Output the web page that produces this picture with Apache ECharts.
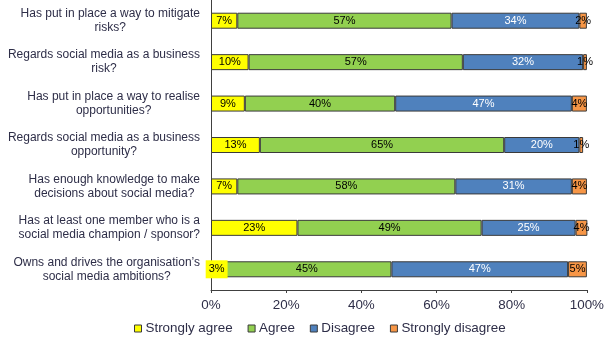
<!DOCTYPE html>
<html>
<head>
<meta charset="utf-8">
<script src="https://cdn.jsdelivr.net/npm/echarts@6/dist/echarts.min.js"></script>
<style>
  html, body { margin: 0; padding: 0; background: #fff; }
  #chart { width: 607px; height: 349px; }
</style>
</head>
<body>
<div id="chart"></div>
<script>
// Survey statements, top to bottom
const categories = [
  'Has put in place a way to mitigate\nrisks?',
  'Regards social media as a business\nrisk?',
  'Has put in place a way to realise\nopportunities?',
  'Regards social media as a business\nopportunity?',
  'Has enough knowledge to make\ndecisions about social media?',
  'Has at least one member who is a\nsocial media champion / sponsor?',
  'Owns and drives the organisation\u2019s\nsocial media ambitions?'
];

// Response shares (%) per statement, same order as categories
const stronglyAgree    = [7, 10, 9, 13, 7, 23, 3];
const agree            = [57, 57, 40, 65, 58, 49, 45];
const disagree         = [34, 32, 47, 20, 31, 25, 47];
const stronglyDisagree = [2, 1, 4, 1, 4, 4, 5];

const seriesNames = ['Strongly agree', 'Agree', 'Disagree', 'Strongly disagree'];
const xTicks = [0, 20, 40, 60, 80, 100];

const colors = ['#FFFF00', '#92D050', '#4F81BD', '#F79646'];
const labelColors = ['#000', '#000', '#fff', '#000'];
const values = [stronglyAgree, agree, disagree, stronglyDisagree];

const chart = echarts.init(document.getElementById('chart'), null, { renderer: 'canvas' });

const font = 'Arial, "Liberation Sans", sans-serif';
const textColor = '#2e2e48';

const series = values.map((arr, si) => ({
  name: seriesNames[si],
  type: 'bar',
  stack: 'total',
  barWidth: 16,
  clip: true,
  itemStyle: { color: colors[si], borderColor: '#3a3a3a', borderWidth: 1 },
  label: {
    show: true,
    position: 'inside',
    formatter: p => p.value + '%',
    color: labelColors[si],
    fontFamily: font,
    fontSize: 11
  },
  emphasis: { disabled: true },
  data: arr.map((v, i) => {
    // the smallest leading share gets a filled label box so it stays readable
    if (si === 0 && v < 5) {
      return { value: v, label: { backgroundColor: '#FFFF00', padding: [4, 3, 3, 3] } };
    }
    return v;
  })
}));

chart.setOption({
  animation: false,
  backgroundColor: '#fff',
  grid: { left: 211, right: 19, top: 0, bottom: 59, containLabel: false },
  legend: {
    data: seriesNames,
    bottom: 9,
    left: 129,
    itemWidth: 7,
    itemHeight: 7,
    itemGap: 15,
    icon: 'rect',
    itemStyle: { borderColor: '#3a3a3a', borderWidth: 1 },
    textStyle: { fontFamily: font, fontSize: 13.4, color: textColor, padding: [0, 0, 0, -1] }
  },
  xAxis: {
    type: 'value',
    min: xTicks[0],
    max: xTicks[xTicks.length - 1],
    interval: 20,
    axisLine: { show: true, lineStyle: { color: '#404040', width: 1 } },
    axisTick: { show: true, length: 3, lineStyle: { color: '#404040' } },
    splitLine: { show: false },
    axisLabel: {
      formatter: v => v + '%',
      fontFamily: font,
      fontSize: 13.4,
      color: textColor,
      margin: 9
    }
  },
  yAxis: {
    type: 'category',
    inverse: true,
    data: categories,
    axisLine: { show: true, lineStyle: { color: '#404040', width: 1 } },
    axisTick: { show: false },
    axisLabel: {
      margin: 11,
      fontFamily: font,
      fontSize: 12,
      color: textColor,
      lineHeight: 14,
      formatter: v => v.split('\n').map(s => '{c|' + s + '}').join('\n'),
      rich: {
        c: { align: 'center', fontFamily: font, fontSize: 12, color: textColor, lineHeight: 14 }
      }
    }
  },
  series: series
});
</script>
</body>
</html>
